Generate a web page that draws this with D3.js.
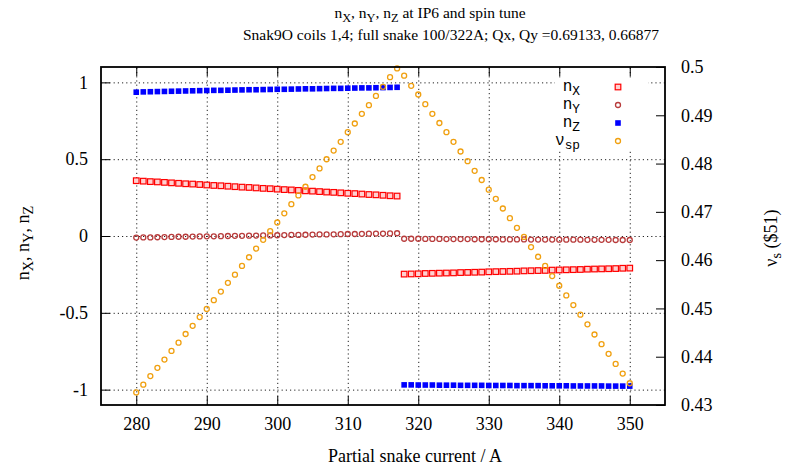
<!DOCTYPE html>
<html>
<head>
<meta charset="utf-8">
<script src="https://cdn.jsdelivr.net/npm/d3@7"></script>
<style>
  body { margin: 0; background: #fff; }
  .grid line { stroke: #222; stroke-dasharray: 1.2,3; stroke-width: 1; }
  .grid path { display: none; }
  .ax path { display: none; }
  .ax line { stroke: #000; stroke-width: 1; }
</style>
</head>
<body>
<svg id="chart" width="788" height="470"></svg>
<script>
// partial snake current (A)
const current = [280,281,282,283,284,285,286,287,288,289,290,291,292,293,294,295,296,297,298,299,
  300,301,302,303,304,305,306,307,308,309,310,311,312,313,314,315,316,317,
  318,319,320,321,322,323,324,325,326,327,328,329,330,331,332,333,334,335,336,337,338,339,
  340,341,342,343,344,345,346,347,348,349,350];

const nX = [0.360,0.357,0.354,0.352,0.349,0.346,0.343,0.340,0.338,0.335,0.332,0.329,0.327,0.324,0.321,0.318,0.316,0.313,0.310,0.308,
  0.305,0.302,0.300,0.297,0.294,0.292,0.289,0.286,0.284,0.281,0.278,0.276,0.273,0.270,0.268,0.265,0.262,0.260,
  -0.248,-0.247,-0.246,-0.244,-0.243,-0.242,-0.241,-0.240,-0.238,-0.237,-0.236,-0.235,-0.233,-0.232,-0.231,-0.230,-0.229,-0.227,-0.226,-0.225,-0.224,-0.222,
  -0.221,-0.220,-0.219,-0.218,-0.216,-0.215,-0.214,-0.213,-0.212,-0.210,-0.209];

const nY = [-0.010,-0.009,-0.009,-0.008,-0.007,-0.006,-0.005,-0.005,-0.004,-0.003,-0.002,-0.002,-0.001,0.000,0.001,0.001,0.002,0.003,0.004,0.004,
  0.005,0.006,0.007,0.007,0.008,0.009,0.010,0.010,0.011,0.012,0.013,0.013,0.014,0.015,0.016,0.016,0.017,0.018,
  -0.018,-0.018,-0.018,-0.019,-0.019,-0.019,-0.020,-0.020,-0.020,-0.020,-0.021,-0.021,-0.021,-0.021,-0.022,-0.022,-0.022,-0.022,-0.023,-0.023,-0.023,-0.023,
  -0.024,-0.024,-0.024,-0.024,-0.025,-0.025,-0.025,-0.025,-0.026,-0.026,-0.026];

const nZ = [0.936,0.938,0.939,0.940,0.941,0.942,0.943,0.944,0.945,0.946,0.947,0.948,0.948,0.949,0.950,0.951,0.952,0.952,0.953,0.954,
  0.955,0.955,0.956,0.957,0.958,0.958,0.959,0.960,0.961,0.961,0.962,0.963,0.964,0.964,0.965,0.966,0.967,0.968,
  -0.969,-0.969,-0.970,-0.970,-0.970,-0.971,-0.971,-0.971,-0.972,-0.972,-0.972,-0.972,-0.973,-0.973,-0.973,-0.973,-0.974,-0.974,-0.974,-0.974,-0.975,-0.975,
  -0.975,-0.975,-0.976,-0.976,-0.976,-0.976,-0.976,-0.977,-0.977,-0.977,-0.977];

// spin tune, right axis
const nuSp = [0.4326,0.4342,0.4360,0.4377,0.4394,0.4412,0.4429,0.4447,0.4464,0.4482,0.4499,0.4517,0.4535,0.4553,0.4570,0.4588,0.4606,0.4624,0.4642,0.4660,
  0.4678,0.4697,0.4716,0.4734,0.4752,0.4772,0.4790,0.4809,0.4827,0.4845,0.4865,0.4883,0.4903,0.4921,0.4940,0.4959,0.4979,0.4997,
  0.4982,0.4961,0.4943,0.4923,0.4903,0.4884,0.4865,0.4845,0.4825,0.4805,0.4785,0.4766,0.4746,0.4727,0.4707,0.4687,0.4667,0.4648,0.4627,0.4607,0.4588,0.4567,
  0.4547,0.4527,0.4507,0.4487,0.4467,0.4446,0.4426,0.4406,0.4385,0.4365,0.4345];

const xTicks = [280,290,300,310,320,330,340,350];
const yTicks = [-1,-0.5,0,0.5,1];
const y2Ticks = [0.43,0.44,0.45,0.46,0.47,0.48,0.49,0.5];

const SERIF = "'Liberation Serif', 'Times New Roman', Times, serif";
const MONO = "'Liberation Mono', 'Courier New', monospace";

const L = 101, R = 665, T = 67, B = 405;
const svg = d3.select("#chart");
svg.append("rect").attr("width",788).attr("height",470).attr("fill","#fff");

const x = d3.scaleLinear().domain([275,355]).range([L,R]);
const y = d3.scaleLinear().domain([-1.1,1.1]).range([B,T]);
const y2 = d3.scaleLinear().domain([0.43,0.5]).range([B,T]);

// grid
svg.append("g").attr("class","grid").attr("transform",`translate(0,${B})`)
  .call(d3.axisBottom(x).tickValues(xTicks).tickSize(-(B-T)).tickFormat(""));
svg.append("g").attr("class","grid").attr("transform",`translate(${L},0)`)
  .call(d3.axisLeft(y).tickValues(yTicks).tickSize(-(R-L)).tickFormat(""));

// axes
const fmt = d => (d === 0 ? "0" : String(d));
const axes = [];
axes.push(svg.append("g").attr("class","ax").attr("transform",`translate(0,${B})`)
  .call(d3.axisBottom(x).tickValues(xTicks).tickSize(-9).tickPadding(12)));
axes.push(svg.append("g").attr("class","ax").attr("transform",`translate(0,${T})`)
  .call(d3.axisTop(x).tickValues(xTicks).tickSize(-9).tickFormat("")));
axes.push(svg.append("g").attr("class","ax").attr("transform",`translate(${L},0)`)
  .call(d3.axisLeft(y).tickValues(yTicks).tickSize(-9).tickPadding(13).tickFormat(fmt)));
axes.push(svg.append("g").attr("class","ax").attr("transform",`translate(${R},0)`)
  .call(d3.axisRight(y2).tickValues(y2Ticks).tickSize(-9).tickPadding(16).tickFormat(d3.format(".2~f"))));
axes.forEach(a => a.attr("font-family", SERIF).attr("font-size", 18));

// series
const colX = "#ff0000", colY = "#b83c3c", colZ = "#0000ff", colNu = "#f0a010";
function squares(vals, color, filled) {
  svg.append("g").selectAll("rect").data(current).join("rect")
    .attr("x", d => x(d) - 2.8).attr("y", (d,i) => y(vals[i]) - 2.8)
    .attr("width", 5.6).attr("height", 5.6)
    .attr("fill", filled ? color : "#ffd0d0")
    .attr("stroke", color).attr("stroke-width", filled ? 0 : 1.2);
}
function circles(vals, color, sc) {
  svg.append("g").selectAll("circle").data(current).join("circle")
    .attr("cx", d => x(d)).attr("cy", (d,i) => sc(vals[i])).attr("r", 2.5)
    .attr("fill", "none").attr("stroke", color).attr("stroke-width", 1.3);
}
squares(nX, colX, false);
circles(nY, colY, y);
squares(nZ, colZ, true);
circles(nuSp, colNu, y2);

// frame
svg.append("rect").attr("x",L).attr("y",T).attr("width",R-L).attr("height",B-T)
  .attr("fill","none").attr("stroke","#000").attr("stroke-width",1.8);

// rich text helper: parts = [[text, isSub], ...]
function rich(sel, parts) {
  let shift = 0;
  parts.forEach(([t, sub]) => {
    const target = sub ? 4 : 0;
    sel.append("tspan").attr("dy", target - shift).attr("font-size", sub ? "0.8em" : null).text(t);
    shift = target;
  });
  return sel;
}
function label(xp, yp, size, tf) {
  const t = svg.append("text").attr("text-anchor","middle")
    .style("font-family", SERIF).style("font-size", size + "px");
  if (tf) t.attr("transform", tf); else t.attr("x", xp).attr("y", yp);
  return t;
}

// legend
svg.append("rect").attr("x",555).attr("y",79).attr("width",93).attr("height",72).attr("fill","#fff");
const legend = [
  {parts:[["n",0],["X",1]], type:"sq", color:colX},
  {parts:[["n",0],["Y",1]], type:"ci", color:colY},
  {parts:[["n",0],["Z",1]], type:"sqf", color:colZ},
  {parts:[["ν",0],["sp",1]], type:"ci", color:colNu}
];
legend.forEach((e, i) => {
  const cy = 87 + i * 18;
  const t = svg.append("text").attr("x", 580).attr("y", cy + 4).attr("text-anchor","end")
    .style("font-family", MONO).style("font-size","16px");
  rich(t, e.parts);
  if (e.type === "ci") {
    svg.append("circle").attr("cx",618).attr("cy",cy).attr("r",2.5)
      .attr("fill","none").attr("stroke",e.color).attr("stroke-width",1.3);
  } else {
    svg.append("rect").attr("x",615.2).attr("y",cy-2.8).attr("width",5.6).attr("height",5.6)
      .attr("fill", e.type === "sqf" ? e.color : "#ffd0d0")
      .attr("stroke", e.color).attr("stroke-width", e.type === "sqf" ? 0 : 1.2);
  }
});

// titles
rich(label(430, 18, 15.5), [["n",0],["X",1],[", n",0],["Y",1],[", n",0],["Z",1],[" at IP6 and spin tune",0]]);
label(451, 40, 15.5).text("Snak9O coils 1,4; full snake 100/322A; Qx, Qy =0.69133, 0.66877");
label(415, 462, 18).text("Partial snake current / A");
rich(label(0, 0, 18, "translate(29,243) rotate(-90)"),
  [["n",0],["X",1],[",  n",0],["Y",1],[",  n",0],["Z",1]]);
rich(label(0, 0, 18, "translate(777,238) rotate(-90)"),
  [["ν",0],["s",1],["    ($51)",0]]);
</script>
</body>
</html>
